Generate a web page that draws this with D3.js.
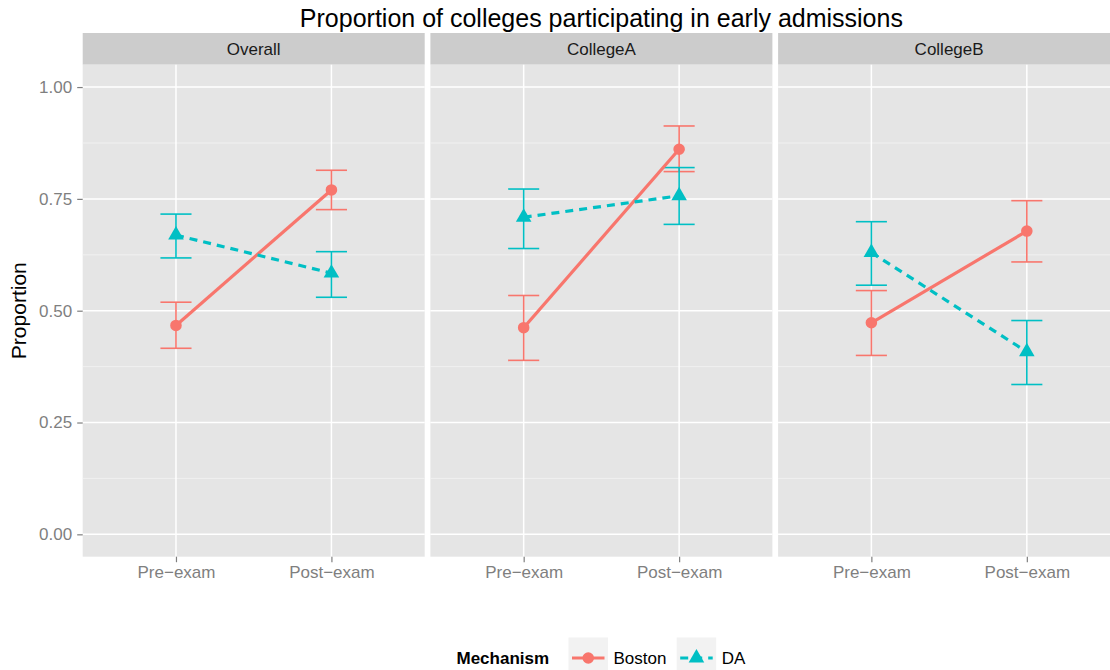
<!DOCTYPE html>
<html>
<head>
<meta charset="utf-8">
<script src="https://cdn.jsdelivr.net/npm/d3@7.9.0/dist/d3.min.js"></script>
<style>
  body { margin: 0; background: #fff; }
  svg { display: block; font-family: "Liberation Sans", Arial, sans-serif; }
</style>
</head>
<body>
<div id="viz"></div>
<script>
// data
const panels = ["Overall", "CollegeA", "CollegeB"];
const periods = ["Pre\u2212exam", "Post\u2212exam"];
const mechanisms = ["Boston", "DA"];
const yTicks = [0, 0.25, 0.5, 0.75, 1];

// per panel: [Pre-exam, Post-exam]
const bostonMean  = [[0.467, 0.770], [0.462, 0.861], [0.473, 0.678]];
const bostonLower = [[0.416, 0.726], [0.389, 0.811], [0.400, 0.609]];
const bostonUpper = [[0.519, 0.814], [0.534, 0.913], [0.545, 0.746]];
const daMean  = [[0.669, 0.584], [0.709, 0.757], [0.630, 0.408]];
const daLower = [[0.618, 0.530], [0.639, 0.693], [0.557, 0.335]];
const daUpper = [[0.716, 0.632], [0.772, 0.820], [0.699, 0.478]];

const colors = { Boston: "#F8766D", DA: "#00BFC4" };

const width = 1110;
const height = 670;

// layout (plot is a bit wider than the picture, right panel gets cut)
const panelLeft = 82.7;
const panelW = 342;
const panelGap = 5.7;
const stripTop = 33;
const panelTop = 64.7;
const panelBottom = 556.7;

const svg = d3.select("#viz")
  .append("svg")
  .attr("width", width)
  .attr("height", height);

const y = d3.scaleLinear().domain([-0.05, 1.05]).range([panelBottom, panelTop]);
const x = d3.scalePoint().domain(periods).range([0, panelW]).padding(0.6);

function rows(i) {
  return [
    { mech: "Boston", vals: periods.map((p, j) => ({ p, m: bostonMean[i][j], lo: bostonLower[i][j], hi: bostonUpper[i][j] })) },
    { mech: "DA", vals: periods.map((p, j) => ({ p, m: daMean[i][j], lo: daLower[i][j], hi: daUpper[i][j] })) }
  ];
}

const line = d3.line().x(d => x(d.p)).y(d => y(d.m));
const minorTicks = d3.range(-0.125, 1.126, 0.25);

function symbolFor(m) {
  return d3.symbol().type(m === "DA" ? d3.symbolTriangle : d3.symbolCircle).size(m === "DA" ? 105 : 105);
}

panels.forEach((name, i) => {
  const left = panelLeft + i * (panelW + panelGap);
  const g = svg.append("g").attr("transform", `translate(${left},0)`);

  // strip
  g.append("rect")
    .attr("x", 0).attr("y", stripTop)
    .attr("width", panelW).attr("height", panelTop - stripTop)
    .attr("fill", "#CCCCCC");
  g.append("text")
    .attr("x", panelW / 2).attr("y", (stripTop + panelTop) / 2)
    .attr("dy", "0.35em")
    .attr("text-anchor", "middle")
    .attr("font-size", "17px")
    .attr("fill", "#1a1a1a")
    .text(name);

  // panel
  g.append("rect")
    .attr("x", 0).attr("y", panelTop)
    .attr("width", panelW).attr("height", panelBottom - panelTop)
    .attr("fill", "#E5E5E5");

  g.selectAll(".minor")
    .data(minorTicks.filter(v => y(v) > panelTop && y(v) < panelBottom))
    .join("line")
    .attr("x1", 0).attr("x2", panelW)
    .attr("y1", d => y(d)).attr("y2", d => y(d))
    .attr("stroke", "#F2F2F2").attr("stroke-width", 0.8);

  g.selectAll(".majorY")
    .data(yTicks)
    .join("line")
    .attr("x1", 0).attr("x2", panelW)
    .attr("y1", d => y(d)).attr("y2", d => y(d))
    .attr("stroke", "#fff").attr("stroke-width", 1.5);

  g.selectAll(".majorX")
    .data(periods)
    .join("line")
    .attr("x1", d => x(d)).attr("x2", d => x(d))
    .attr("y1", panelTop).attr("y2", panelBottom)
    .attr("stroke", "#fff").attr("stroke-width", 1.5);

  // x axis
  const xa = g.append("g")
    .attr("transform", `translate(0,${panelBottom})`)
    .call(d3.axisBottom(x).tickSize(5.5).tickPadding(4));
  xa.select(".domain").remove();
  xa.selectAll(".tick line").attr("stroke", "#7F7F7F").attr("stroke-width", 1.2);
  xa.selectAll(".tick text").attr("fill", "#7F7F7F").attr("font-size", "17px")
    .attr("font-family", "Liberation Sans, Arial, sans-serif");

  const data = rows(i);

  // error bars
  data.forEach(s => {
    const eg = g.append("g").attr("stroke", colors[s.mech]).attr("stroke-width", 1.6).attr("fill", "none");
    s.vals.forEach(d => {
      const cx = x(d.p), hw = x.step() * 0.1;
      eg.append("line").attr("x1", cx).attr("x2", cx).attr("y1", y(d.lo)).attr("y2", y(d.hi));
      eg.append("line").attr("x1", cx - hw).attr("x2", cx + hw).attr("y1", y(d.lo)).attr("y2", y(d.lo));
      eg.append("line").attr("x1", cx - hw).attr("x2", cx + hw).attr("y1", y(d.hi)).attr("y2", y(d.hi));
    });
  });

  // lines
  data.forEach(s => {
    g.append("path")
      .datum(s.vals)
      .attr("d", line)
      .attr("fill", "none")
      .attr("stroke", colors[s.mech])
      .attr("stroke-width", 3.2)
      .attr("stroke-dasharray", s.mech === "DA" ? "8,6" : null);
  });

  // points
  data.forEach(s => {
    g.selectAll(null)
      .data(s.vals)
      .join("path")
      .attr("transform", d => `translate(${x(d.p)},${y(d.m)})`)
      .attr("d", symbolFor(s.mech))
      .attr("fill", colors[s.mech]);
  });
});

// y axis
const ya = svg.append("g")
  .attr("transform", `translate(${panelLeft},0)`)
  .call(d3.axisLeft(y).tickValues(yTicks).tickFormat(d3.format(".2f")).tickSize(5.5).tickPadding(5));
ya.select(".domain").remove();
ya.selectAll(".tick line").attr("stroke", "#7F7F7F").attr("stroke-width", 1.2);
ya.selectAll(".tick text").attr("fill", "#7F7F7F").attr("font-size", "17px")
  .attr("font-family", "Liberation Sans, Arial, sans-serif");

// axis title
svg.append("text")
  .attr("transform", `translate(26,${(panelTop + panelBottom) / 2}) rotate(-90)`)
  .attr("text-anchor", "middle")
  .attr("font-size", "21px")
  .text("Proportion");

// title
svg.append("text")
  .attr("x", panelLeft + (3 * panelW + 2 * panelGap) / 2)
  .attr("y", 26.7)
  .attr("text-anchor", "middle")
  .attr("font-size", "25px")
  .text("Proportion of colleges participating in early admissions");

// legend
const legY = 658;
svg.append("text")
  .attr("x", 456.5).attr("y", legY).attr("dy", "0.35em")
  .attr("font-size", "17px").attr("font-weight", "bold")
  .text("Mechanism");

const keyX = [568.5, 676.7];
mechanisms.forEach((m, i) => {
  const kg = svg.append("g").attr("transform", `translate(${keyX[i]},${legY})`);
  kg.append("rect").attr("x", 0).attr("y", -20.5).attr("width", 39.5).attr("height", 41).attr("fill", "#F2F2F2");
  kg.append("line").attr("x1", 3.5).attr("x2", 36).attr("y1", 0).attr("y2", 0)
    .attr("stroke", colors[m]).attr("stroke-width", 3.2)
    .attr("stroke-dasharray", m === "DA" ? "8,6" : null);
  kg.append("path")
    .attr("d", symbolFor(m))
    .attr("transform", "translate(19.75,0)")
    .attr("fill", colors[m]);
  kg.append("text").attr("x", 45).attr("y", 0).attr("dy", "0.35em")
    .attr("font-size", "17px").text(m);
});
</script>
</body>
</html>
